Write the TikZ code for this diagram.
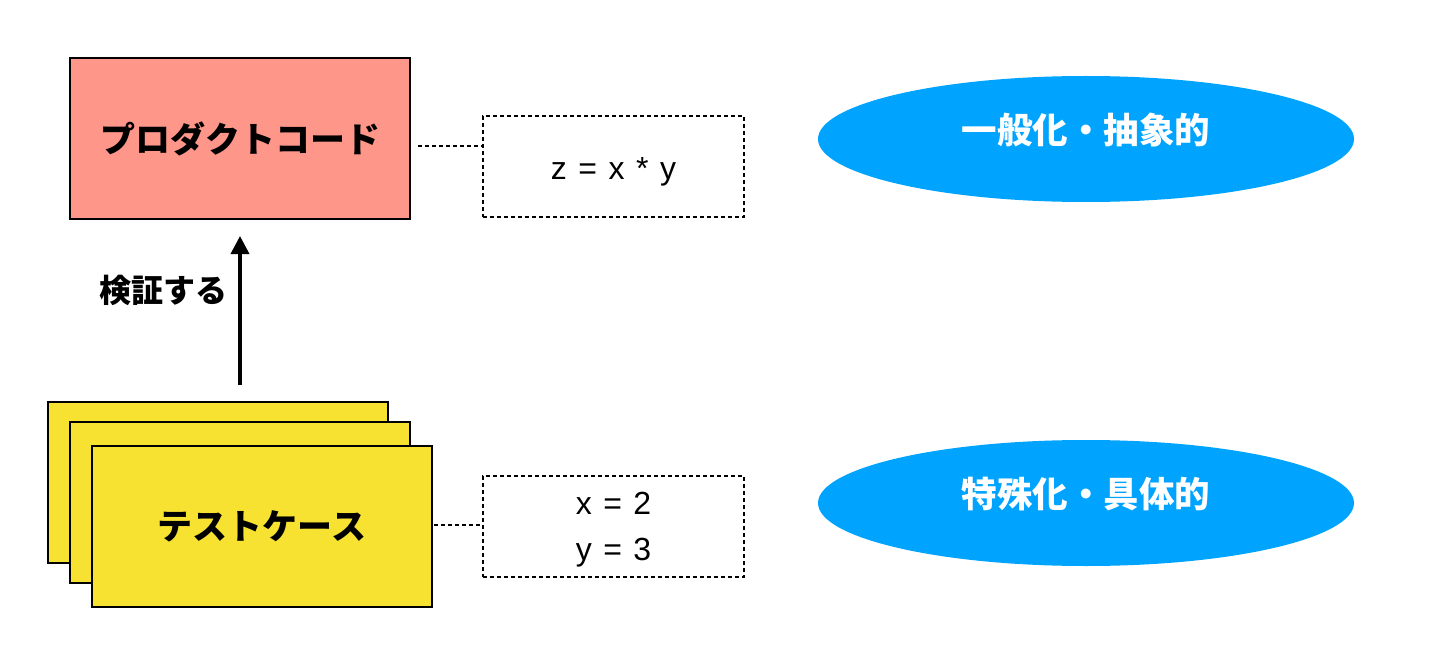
\documentclass[tikz,border=0pt]{standalone}
\usepackage{fontspec}
\newfontfamily\jp{Noto Sans CJK JP}
\newfontfamily\lat{Liberation Sans}
\usetikzlibrary{shapes.geometric,arrows.meta}
\definecolor{pinkfill}{HTML}{FF968A}
\definecolor{yellowfill}{HTML}{F8E231}
\definecolor{bluefill}{HTML}{00A4FF}
\newcommand{\widesp}{\spaceskip=11.5pt\relax}
\begin{document}
\begin{tikzpicture}[x=1pt,y=-1pt,
  solidbox/.style={draw=black, line width=2pt, minimum width=340pt, minimum height=161pt, inner sep=0pt},
  dbox/.style={draw=black, line width=1.6pt, dash pattern=on 4pt off 3pt, minimum width=261pt, minimum height=101pt, inner sep=0pt},
  dline/.style={draw=black, line width=1.6pt, dash pattern=on 4pt off 3pt},
  jpbold/.style={font=\jp\bfseries\fontsize{35}{40}\selectfont},
  oval/.style={ellipse, fill=bluefill, minimum width=536pt, minimum height=126pt, inner sep=0pt, text=white, text height=27pt, text depth=18pt, font=\jp\bfseries\fontsize{35.5}{40}\selectfont},
  formula/.style={font=\lat\fontsize{32}{46}\selectfont, align=center, inner sep=0pt},
  arr/.style={line width=3.5pt, -{Triangle[length=18pt,width=18pt]}}
]
\useasboundingbox (0,0) rectangle (1444,666);

% product code
\node[solidbox, fill=pinkfill, jpbold] (prod) at (240,138.5) {プロダクトコード};

% test case stack
\node[solidbox, fill=yellowfill] (tc1) at (218,482.5) {};
\node[solidbox, fill=yellowfill] (tc2) at (240,502.5) {};
\node[solidbox, fill=yellowfill, jpbold] (tc3) at (262,526.5) {テストケース};

% dashed boxes
\node[dbox] (zbox) at (613.5,166.5) {};
\node[formula, anchor=base] (ztext) at (613.5,180) {\widesp z = x * y};
\node[dbox] (xybox) at (613.5,526.5) {};
\node[formula] (xytext) at (613.5,529.9) {\widesp x = 2\\\widesp y = 3};

% dashed connectors
\coordinate (c1) at (418,146);
\draw[dline] (c1) -- (c1 -| zbox.west);
\coordinate (c2) at (434,525);
\draw[dline] (c2) -- (c2 -| xybox.west);

% arrow
\draw[arr, shorten <=16pt, shorten >=16pt] (prod.south |- tc1.north) -- (prod.south);
\node[font=\jp\bfseries\fontsize{32}{36}\selectfont, inner sep=0pt] (verify) at (163,290) {検証する};

% ellipses
\node[oval] (gen) at (1086,139) {一般化・抽象的};
\node[oval] (spec) at (1086,503) {特殊化・具体的};
\end{tikzpicture}
\end{document}
